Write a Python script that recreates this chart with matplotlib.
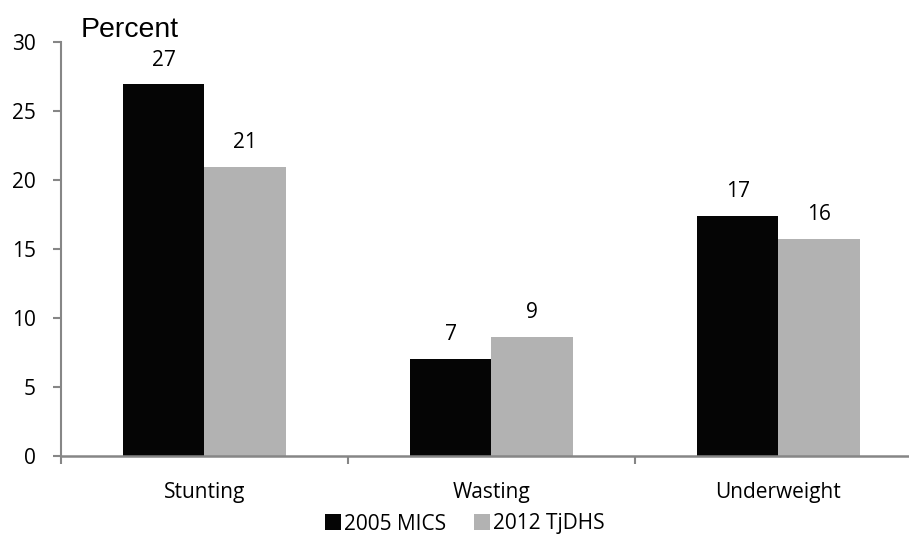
"""Child nutritional status, 2005 MICS vs 2012 TjDHS — grouped bar chart."""
import matplotlib

matplotlib.use("Agg")
import matplotlib.pyplot as plt
import numpy as np

CATEGORIES = ["Stunting", "Wasting", "Underweight"]
SERIES = ["2005 MICS", "2012 TjDHS"]
MICS_2005 = [26.9, 7.0, 17.4]
TJDHS_2012 = [20.9, 8.6, 15.7]
YTICKS = [0, 5, 10, 15, 20, 25, 30]

COLORS = ["#050505", "#b2b2b2"]
AXIS_GREY = "#868686"
FONT = "Open Sans"
FS = 15

W, H = 909, 535
fig = plt.figure(figsize=(W / 100, H / 100), dpi=100)
ax = fig.add_axes([61 / W, 79.3 / H, 861 / W, 414 / H])

x = np.arange(len(CATEGORIES))
bw = 0.284
for k, (vals, color, name) in enumerate(zip([MICS_2005, TJDHS_2012], COLORS, SERIES)):
    xs = x + (k - 0.5) * bw
    ax.bar(xs, vals, width=bw, color=color, edgecolor="none", label=name)
    for xi, v in zip(xs, vals):
        ax.annotate(f"{v:.0f}", (xi, v), xytext=(0, 10), textcoords="offset points",
                    ha="center", va="bottom", fontsize=FS, family=FONT, color="black")

ax.set_xlim(-0.5, len(CATEGORIES) - 0.5)
ax.set_ylim(0, 30)

for side in ("top", "right"):
    ax.spines[side].set_visible(False)
for side in ("left", "bottom"):
    ax.spines[side].set_color(AXIS_GREY)
    ax.spines[side].set_linewidth(1.8)
ax.spines["left"].set_linewidth(1.5)

ax.set_yticks(YTICKS)
ax.set_yticklabels([str(t) for t in YTICKS], fontsize=FS, family=FONT)
ax.tick_params(axis="y", length=6, width=1.5, color=AXIS_GREY, pad=12)

# boundary ticks on x, labels centred under each group
ax.set_xticks(np.arange(len(CATEGORIES) + 1) - 0.5)
ax.set_xticklabels([])
ax.tick_params(axis="x", which="major", length=6, width=1.5, color=AXIS_GREY)
ax.set_xticks(x, minor=True)
ax.set_xticklabels(CATEGORIES, minor=True, fontsize=FS, family=FONT)
ax.tick_params(axis="x", which="minor", length=0, pad=19)

fig.text(81 / W, 1 - 37 / H, "Percent", fontsize=20.5, family="Liberation Sans",
         ha="left", va="baseline")

fig.legend(loc="center", bbox_to_anchor=(465 / W, 1 - 524 / H), ncol=2, frameon=False,
           prop={"family": FONT, "size": FS}, handlelength=0.77, handleheight=0.8,
           handletextpad=0.15, columnspacing=1.35, borderpad=0, borderaxespad=0)

fig.savefig("out.png", dpi=100)
